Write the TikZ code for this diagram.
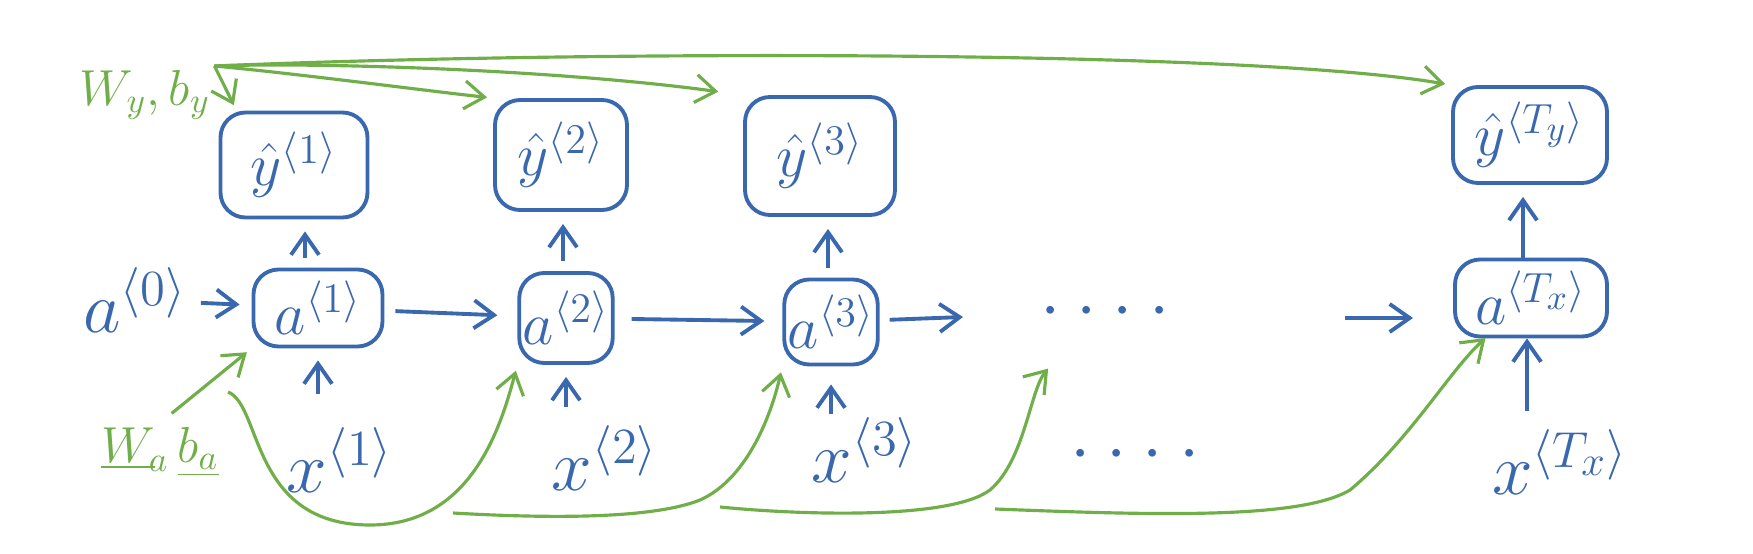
\documentclass[tikz,border=0pt]{standalone}
\usetikzlibrary{arrows.meta,positioning}

\definecolor{penblue}{RGB}{58,104,174}
\definecolor{pengreen}{RGB}{112,174,74}

\begin{document}
\begin{tikzpicture}[x=0.1mm,y=-0.1mm,
    font						= \huge,
    cell/.style					= {draw=penblue, line width=1.1pt, rounded corners=2.5mm, text=penblue, inner sep=1pt, font=\LARGE},
    lbl/.style					= {text=penblue, inner sep=1pt},
    prm/.style					= {text=pengreen, inner sep=1pt, font=\Large},
    flow/.style					= {draw=penblue, line width=1.1pt, -{Straight Barb[length=2mm,width=2.8mm]}, shorten >=1.2mm, shorten <=1mm},
    feed/.style					= {draw=pengreen, line width=0.9pt, -{Straight Barb[length=2mm,width=2.8mm]}, shorten >=0.6mm},
    %every node/.style			= lbl,
    ]
\useasboundingbox (0,0) rectangle (1753,554);

% output boxes
\node[cell, minimum width=14.7mm, minimum height=10.5mm] (y1) at (294,165) {${\hat{y}}^{\langle 1\rangle}$};
\node[cell, minimum width=13.2mm, minimum height=11mm]   (y2) at (561,155) {${\hat{y}}^{\langle 2\rangle}$};
\node[cell, minimum width=15mm,   minimum height=11.8mm] (y3) at (820,156) {${\hat{y}}^{\langle 3\rangle}$};
\node[cell, minimum width=15.4mm, minimum height=9.6mm]  (y4) at (1530,135) {${\hat{y}}^{\langle T_y\rangle}$};

% activation boxes
\node[cell, minimum width=12.9mm, minimum height=7.7mm] (a1) at (318,308) {$a^{\langle 1\rangle}$};
\node[cell, minimum width=9.3mm,  minimum height=9mm]   (a2) at (566,318) {$a^{\langle 2\rangle}$};
\node[cell, minimum width=9.3mm,  minimum height=8.5mm] (a3) at (831,322) {$a^{\langle 3\rangle}$};
\node[cell, minimum width=15.2mm, minimum height=7.7mm] (a4) at (1531,298) {$a^{\langle T_x\rangle}$};

\node[lbl] (a0) at (135,300) {$a^{\langle 0\rangle}$};

% inputs
\node[lbl] (x1) at (340,460) {$x^{\langle 1\rangle}$};
\node[lbl] (x2) at (605,458) {$x^{\langle 2\rangle}$};
\node[lbl] (x3) at (865,450) {$x^{\langle 3\rangle}$};
\node[lbl] (x4) at (1560,462) {$x^{\langle T_x\rangle}$};

\node[lbl] (dotsA) at (1105,312) {$\mathord{\cdot}\hspace{1.6mm}\mathord{\cdot}\hspace{1.6mm}\mathord{\cdot}\hspace{1.6mm}\mathord{\cdot}$};
\node[lbl] (dotsB) at (1135,455) {$\mathord{\cdot}\hspace{1.6mm}\mathord{\cdot}\hspace{1.6mm}\mathord{\cdot}\hspace{1.6mm}\mathord{\cdot}$};

% parameters
\node[prm] (wy) at (145,95)  {$W_y, b_y$};
\node[prm] (wa) at (160,452) {$\underline{W}_{\!a}\,\underline{b_a}$};

\coordinate (a3out) at (963,317);
\coordinate (a4in)  at (1345,318);
\coordinate (a4tip) at (1413,318);
\coordinate (split1) at (228,392);
\coordinate (split2) at (453,513);
\coordinate (split3) at (720,507);
\coordinate (split4) at (995,509);
\coordinate (dotsin) at (1052,364);
\coordinate (a4feed) at (1490,334);

% recurrence
\draw[flow] (a0) -- (a1);
\draw[flow, shorten <=1.1mm, shorten >=2mm] (a1) -- (a2);
\draw[flow, shorten <=1.7mm, shorten >=1.8mm] (a2) -- (a3);
\draw[flow, shorten >=0pt] (a3) -- (a3out);
\draw[flow, shorten <=0pt, shorten >=0pt] (a4in) -- (a4tip);

% outputs
\draw[flow] (a1.north -| 305,0) -- (y1.south -| 305,0);
\draw[flow] (a2.north -| 563,0) -- (y2.south -| 563,0);
\draw[flow] (a3.north -| 828,0) -- (y3.south -| 828,0);
\draw[flow, shorten <=0pt] (a4.north -| 1523,0) -- (y4.south -| 1523,0);

% inputs into cells
\draw[flow, shorten <=3mm] (a1 |- x1.north) -- (a1);
\draw[flow, shorten <=1.5mm] (a2 |- x2.north) -- (a2);
\draw[flow, shorten <=0pt, shorten >=1.8mm] (a3 |- x3.north) -- (a3);
\draw[flow, shorten <=1.5mm, shorten >=0pt] (1527,0 |- x4.north) -- (a4.south -| 1527,0);

% shared output weights
\draw[feed] (wy.north east) -- ([xshift=1.8mm]y1.north west);
\draw[feed] (wy.north east) .. controls (300,74) and (420,90) .. (y2.north west);
\draw[feed, shorten >=2.5mm] (wy.north east) .. controls (320,62) and (560,70) .. (y3.north west);
\draw[feed] (wy.north east) .. controls (600,50) and (1250,50) .. (y4.north west);

% shared recurrent weights
\draw[feed, shorten <=1.5mm] (wa.north) -- (a1.south west);
\draw[feed] (split1) .. controls (262,405) and (250,525) .. (370,525)
                     .. controls (470,525) and (500,430) .. (a2.south west);
\draw[feed] (split2) .. controls (540,518) and (650,520) .. (700,500)
                     .. controls (745,480) and (770,420) .. (a3.south west);
\draw[feed] (split3) .. controls (800,515) and (950,520) .. (990,490)
                     .. controls (1025,460) and (1030,390) .. (dotsin);
\draw[feed] (split4) .. controls (1150,515) and (1300,520) .. (1350,490)
                     .. controls (1410,440) and (1450,370) .. (a4feed);
\end{tikzpicture}
\end{document}
